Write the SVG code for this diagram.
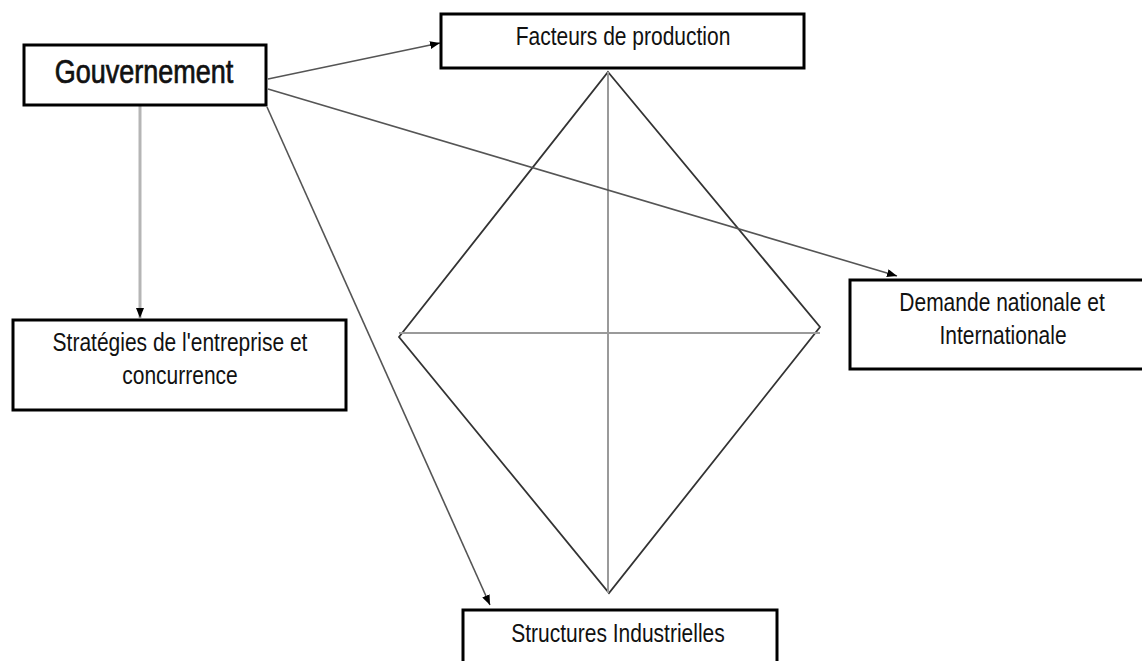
<svg xmlns="http://www.w3.org/2000/svg" width="1142" height="661" viewBox="0 0 1142 661">
<defs>
<style>
.box{fill:#fff;stroke:#000;stroke-width:3}
.lbl{font-family:"Liberation Sans",Arial,sans-serif;font-size:21px;fill:#111;text-anchor:middle}
.con{stroke:#555;stroke-width:1.6;fill:none}
.dia{stroke:#333;stroke-width:1.8;fill:none}
.inner{stroke:#9a9a9a;stroke-width:2;fill:none}
</style>
<marker id="arr" markerUnits="userSpaceOnUse" markerWidth="10" markerHeight="8" refX="10" refY="4" orient="auto">
<path d="M0,0 L10,4 L0,8 z" fill="#000"/>
</marker>
</defs>
<rect width="1142" height="661" fill="#fff"/>
<g id="diamond">
<polygon class="dia" points="608,72 820,327 609,593 399,337"/>
<line class="inner" x1="399" y1="333" x2="820" y2="333"/>
<line class="inner" x1="608" y1="72" x2="608" y2="593"/>
</g>
<g id="connectors">
<line class="con" x1="268" y1="79" x2="440" y2="43" marker-end="url(#arr)"/>
<line class="con" x1="268" y1="89" x2="897" y2="276" marker-end="url(#arr)"/>
<line class="con" x1="267" y1="107" x2="490" y2="605" marker-end="url(#arr)"/>
<line x1="140" y1="106" x2="140" y2="318" stroke="#b5b5b5" stroke-width="3" marker-end="url(#arr)"/>
</g>
<g id="gouvernement">
<rect class="box" x="24" y="45" width="242" height="60"/>
<text class="lbl" transform="translate(144,83) scale(1,1.2)" style="font-size:27px;stroke:#111;stroke-width:0.6">Gouvernement</text>
</g>
<g id="facteurs">
<rect class="box" x="441" y="14" width="363" height="54"/>
<text class="lbl" transform="translate(623,45) scale(1,1.2)">Facteurs de production</text>
</g>
<g id="demande">
<rect class="box" x="850" y="280" width="306" height="89"/>
<text class="lbl" transform="translate(1002,311) scale(1,1.2)">Demande nationale et</text>
<text class="lbl" transform="translate(1003,344) scale(1,1.2)">Internationale</text>
</g>
<g id="strategies">
<rect class="box" x="13" y="320" width="333" height="90"/>
<text class="lbl" transform="translate(180,351) scale(1,1.2)">Stratégies de l'entreprise et</text>
<text class="lbl" transform="translate(180,384) scale(1,1.2)">concurrence</text>
</g>
<g id="structures">
<rect class="box" x="463" y="610" width="314" height="60"/>
<text class="lbl" transform="translate(618,642) scale(1,1.2)">Structures Industrielles</text>
</g>
</svg>
